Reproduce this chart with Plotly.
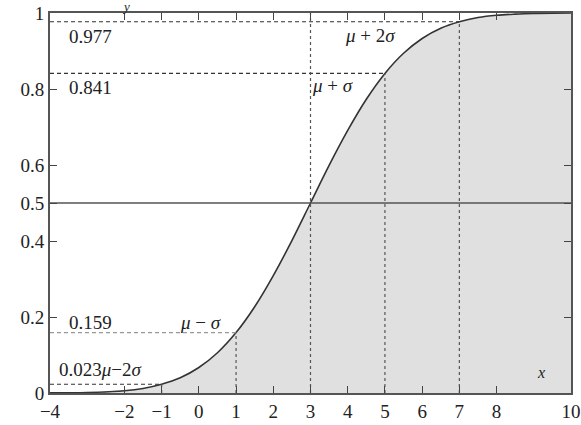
import plotly.graph_objects as go

# Cumulative distribution curve, N(mu=3, sigma=2), sampled points
cdf_x = [-4, -3, -2, -1.5, -1, -0.5, 0, 0.5, 1, 1.5, 2, 2.5, 3, 3.5, 4, 4.5,
         5, 5.5, 6, 6.5, 7, 7.5, 8, 8.5, 9, 10]
cdf_y = [0.0002, 0.0013, 0.006, 0.012, 0.023, 0.040, 0.067, 0.106, 0.159, 0.227,
         0.309, 0.401, 0.5, 0.599, 0.691, 0.773, 0.841, 0.894, 0.933, 0.960,
         0.977, 0.988, 0.994, 0.997, 0.9987, 1.0]

# Reference points mu +/- k*sigma and their probabilities
ref_x = [-1, 1, 5, 7]
ref_p = [0.023, 0.159, 0.841, 0.977]
ref_p_labels = ["0.023", "0.159", "0.841", "0.977"]
ref_names = ["<i>μ</i>−2<i>σ</i>", "<i>μ</i> − <i>σ</i>", "<i>μ</i> + <i>σ</i>", "<i>μ</i> + 2<i>σ</i>"]
mu = 3
median_p = 0.5

x_ticks = [-4, -2, -1, 0, 1, 2, 3, 4, 5, 6, 7, 8, 10]
y_ticks = [0, 0.2, 0.4, 0.5, 0.6, 0.8, 1]
y_tick_text = ["0", "0.2", "0.4", "0.5", "0.6", "0.8", "1"]

x_min, x_max = -4, 10
serif = "Liberation Serif, Times New Roman, serif"

fig = go.Figure()

# shaded area under the curve
fig.add_trace(go.Scatter(
    x=cdf_x, y=cdf_y, mode="lines", line=dict(color="#333333", width=1.6, shape="spline"),
    fill="tozeroy", fillcolor="#e0e0e0", hoverinfo="skip", showlegend=False))

# horizontal dashed guides from the axis to the curve
for xv, pv in zip(ref_x, ref_p):
    col = "#999999" if pv == 0.159 else "#333333"
    fig.add_trace(go.Scatter(
        x=[x_min, xv], y=[pv, pv], mode="lines",
        line=dict(color=col, width=1.2, dash="4px,3px"),
        hoverinfo="skip", showlegend=False))
    # vertical dashed guides down to the x axis
    fig.add_trace(go.Scatter(
        x=[xv, xv], y=[0, pv], mode="lines",
        line=dict(color="#555555", width=1.2, dash="3px,3px"),
        hoverinfo="skip", showlegend=False))

# vertical dashed line at the mean, full height
fig.add_trace(go.Scatter(
    x=[mu, mu], y=[0, 1], mode="lines",
    line=dict(color="#555555", width=1.2, dash="3px,3px"),
    hoverinfo="skip", showlegend=False))

# solid line at p = 0.5
fig.add_trace(go.Scatter(
    x=[x_min, x_max], y=[median_p, median_p], mode="lines",
    line=dict(color="#555555", width=1.3),
    hoverinfo="skip", showlegend=False))

ann = []
font = dict(family=serif, size=19, color="#222222")
# probability labels on the left
label_pos = {"0.977": 0.937, "0.841": 0.805, "0.159": 0.185}
for lab in ["0.977", "0.841", "0.159"]:
    ann.append(dict(x=-3.55, y=label_pos[lab], text=lab,
                    showarrow=False, xanchor="left", yanchor="middle", font=font))
# lowest probability label runs straight into its sigma label
ann.append(dict(x=-3.8, y=0.063, text=ref_p_labels[0] + ref_names[0], showarrow=False,
                xanchor="left", yanchor="middle", font=font))
# sigma labels
ann.append(dict(x=0.05, y=0.185, text=ref_names[1], showarrow=False,
                xanchor="center", yanchor="middle", font=font))
ann.append(dict(x=3.6, y=0.808, text=ref_names[2], showarrow=False,
                xanchor="center", yanchor="middle", font=font))
ann.append(dict(x=4.6, y=0.94, text=ref_names[3], showarrow=False,
                xanchor="center", yanchor="middle", font=font))
# axis names
ann.append(dict(x=9.2, y=0.055, text="<i>x</i>", showarrow=False,
                xanchor="center", yanchor="middle", font=dict(family=serif, size=16, color="#222222")))
ann.append(dict(x=-1.95, y=1.0, yref="y", text="<i>y</i>", showarrow=False,
                xanchor="center", yanchor="bottom", yshift=-3,
                font=dict(family=serif, size=13, color="#222222")))

fig.update_layout(
    width=581, height=425,
    margin=dict(l=50, r=10, t=13, b=32, autoexpand=False),
    paper_bgcolor="white", plot_bgcolor="white",
    annotations=ann,
    xaxis=dict(range=[x_min, x_max], tickvals=x_ticks, ticktext=[str(v).replace("-", "−") for v in x_ticks],
               ticks="inside", ticklen=7, tickwidth=1.3, tickcolor="#444444",
               showline=True, linecolor="#555555", linewidth=2, mirror="ticks",
               showgrid=False, zeroline=False, automargin=False,
               tickfont=dict(family=serif, size=19, color="#222222")),
    yaxis=dict(range=[0, 1], tickvals=y_ticks, ticktext=y_tick_text,
               ticks="inside", ticklen=7, tickwidth=1.3, tickcolor="#444444",
               showline=True, linecolor="#555555", linewidth=2, mirror="ticks",
               showgrid=False, zeroline=False, automargin=False,
               tickfont=dict(family=serif, size=19, color="#222222")),
)

fig.write_html("out.html")
